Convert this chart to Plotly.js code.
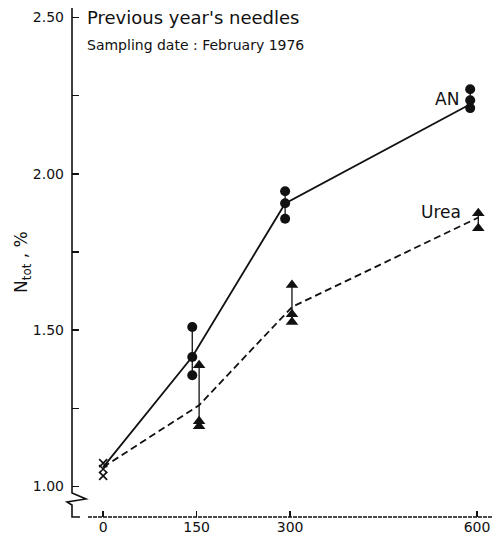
<!DOCTYPE html>
<html>
<head>
<meta charset="utf-8">
<script src="https://cdn.plot.ly/plotly-3.0.1.min.js"></script>
<style>html,body{margin:0;padding:0;background:#fff;}#chart{width:497px;height:547px;}</style>
</head>
<body>
<div id="chart"></div>
<script>
// ---- data (N_tot % of previous year's needles vs. N dose) ----
const xTickVals = [0, 150, 300, 600];
const xTickText = ["0", "150", "300", "600"];
const yTickVals = [1.00, 1.50, 2.00, 2.50];
const yTickText = ["1.00", "1.50", "2.00", "2.50"];
const yMinorStep = 0.25;

const controlDose = [0, 0, 0];
const controlValues = [1.075, 1.056, 1.034];
const controlMean = 1.062;

const anDoses = [143, 292, 589];
const anRep1 = [1.510, 1.944, 2.270];
const anRep2 = [1.414, 1.906, 2.235];
const anRep3 = [1.356, 1.856, 2.210];
const anMean = [1.415, 1.905, 2.222];

const ureaDoses = [154, 303, 602];
const ureaRep1 = [1.388, 1.644, 1.874];
const ureaRep2 = [1.209, 1.551, 1.826];
const ureaRep3 = [1.193, 1.526, null];
const ureaMean = [1.260, 1.574, 1.860];

// ---- layout geometry ----
const W = 497, H = 547;
const M = {l: 72, r: 5, t: 8, b: 30};
const PW = W - M.l - M.r, PH = H - M.t - M.b;
const px = x => (x - M.l) / PW;
const py = y => (H - M.b - y) / PH;

const ink = "#111";
const traces = [];

// vertical connectors between replicates
function connectors(doses, reps, width) {
  doses.forEach((d, i) => {
    const vals = reps.map(r => r[i]).filter(v => v !== null);
    traces.push({x: [d, d], y: [Math.min(...vals), Math.max(...vals)], mode: "lines",
      line: {color: ink, width: width}, hoverinfo: "skip", showlegend: false});
  });
}
connectors(anDoses, [anRep1, anRep2, anRep3], 1.3);
connectors(ureaDoses, [ureaRep1, ureaRep2, ureaRep3], 1.3);

// mean lines
traces.push({x: [0].concat(anDoses), y: [controlMean].concat(anMean), mode: "lines",
  line: {color: ink, width: 1.8}, name: "AN", showlegend: false});
traces.push({x: [0].concat(ureaDoses), y: [controlMean].concat(ureaMean), mode: "lines",
  line: {color: ink, width: 1.8, dash: "7px,4px"}, name: "Urea", showlegend: false});

// replicate markers
[anRep1, anRep2, anRep3].forEach(r => traces.push({x: anDoses, y: r, mode: "markers",
  marker: {symbol: "circle", size: 10, color: ink}, showlegend: false}));
[ureaRep1, ureaRep2, ureaRep3].forEach(r => traces.push({x: ureaDoses, y: r, mode: "markers",
  marker: {symbol: "triangle-up", size: 11, color: ink}, showlegend: false}));
traces.push({x: controlDose, y: controlValues, mode: "markers",
  marker: {symbol: "x-thin-open", size: 8, color: ink, line: {color: ink, width: 1.6}}, showlegend: false});

const font = {family: "DejaVu Sans, sans-serif", color: ink};

const layout = {
  width: W, height: H,
  margin: M,
  paper_bgcolor: "#fff", plot_bgcolor: "#fff",
  showlegend: false,
  font: Object.assign({size: 14}, font),
  xaxis: {
    range: [-50, 624], tickvals: xTickVals, ticktext: xTickText,
    ticks: "inside", ticklen: 6, tickwidth: 1.5, tickcolor: ink,
    showline: false, showgrid: false, zeroline: false,
    tickfont: Object.assign({size: 14}, font)
  },
  yaxis: {
    range: [0.9026, 2.53], tickvals: yTickVals, ticktext: yTickText,
    ticks: "inside", ticklen: 7, tickwidth: 1.5, tickcolor: ink,
    minor: {tick0: 1, dtick: yMinorStep, ticks: "inside", ticklen: 7, tickwidth: 1.5, tickcolor: ink, showgrid: false},
    showline: false, showgrid: false, zeroline: false, ticklabelstandoff: 7,
    tickfont: Object.assign({size: 14}, font)
  },
  shapes: [
    // y axis with break
    {type: "path", xref: "paper", yref: "paper",
     path: `M${px(72)},${py(8)} L${px(72)},${py(493)} L${px(86)},${py(499)} L${px(67)},${py(502)} L${px(72)},${py(505)} L${px(72)},${py(517)} L${px(80)},${py(517)}`,
     line: {color: ink, width: 1.6}},
    // dotted x axis
    {type: "line", xref: "paper", yref: "paper", x0: px(88), x1: px(492), y0: 0, y1: 0,
     line: {color: ink, width: 1.5, dash: "4px,1px"}}
  ],
  annotations: [
    {text: "Previous year's needles", xref: "paper", yref: "paper", x: px(85), y: py(18),
     xanchor: "left", yanchor: "middle", showarrow: false, font: Object.assign({size: 18}, font)},
    {text: "Sampling date : February 1976", xref: "paper", yref: "paper", x: px(85), y: py(45),
     xanchor: "left", yanchor: "middle", showarrow: false, font: Object.assign({size: 14}, font)},
    {text: "AN", xref: "paper", yref: "paper", x: px(461), y: py(99),
     xanchor: "right", yanchor: "middle", showarrow: false, font: Object.assign({size: 17}, font)},
    {text: "Urea", xref: "paper", yref: "paper", x: px(463), y: py(212),
     xanchor: "right", yanchor: "middle", showarrow: false, font: Object.assign({size: 17}, font)},
    {text: "N<sub>tot</sub> , %", xref: "paper", yref: "paper", x: px(22), y: py(262),
     xanchor: "center", yanchor: "middle", textangle: -90, showarrow: false,
     font: Object.assign({size: 17}, font)}
  ]
};

Plotly.newPlot("chart", traces, layout, {displayModeBar: false, staticPlot: true});
</script>
</body>
</html>
